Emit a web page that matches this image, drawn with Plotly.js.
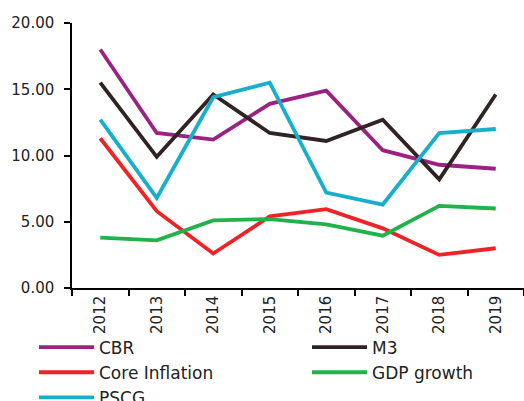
<!DOCTYPE html>
<html><head><meta charset="utf-8">
<script src="https://cdn.plot.ly/plotly-3.0.1.min.js"></script>
<style>body{margin:0;background:#fff}#c{width:524px;height:401px}</style>
</head><body><div id="c"></div>
<script>
const years = ['2012','2013','2014','2015','2016','2017','2018','2019'];
const cbr = [18.0, 11.7, 11.2, 13.9, 14.9, 10.4, 9.3, 9.0];
const m3 = [15.5, 9.9, 14.6, 11.7, 11.1, 12.7, 8.2, 14.6];
const coreInflation = [11.3, 5.8, 2.6, 5.4, 5.95, 4.5, 2.5, 3.0];
const gdpGrowth = [3.8, 3.6, 5.1, 5.2, 4.8, 3.95, 6.2, 6.0];
const pscg = [12.7, 6.8, 14.4, 15.5, 7.2, 6.3, 11.7, 12.0];
const yTicks = [0, 5, 10, 15, 20];

const mk = (name, y, color, lg) => ({x: years, y: y, name: name, type: 'scatter', mode: 'lines',
  line: {color: color, width: 3.8}, legend: lg});
const data = [
  mk('CBR', cbr, '#9B2283', 'legend'),
  mk('M3', m3, '#2F2423', 'legend2'),
  mk('Core Inflation', coreInflation, '#EE2326', 'legend'),
  mk('GDP growth', gdpGrowth, '#22B24C', 'legend2'),
  mk('PSCG', pscg, '#17AFCB', 'legend')
];
const font = 'DejaVu Sans, sans-serif';
const legendBase = {orientation: 'v', xref: 'container', yref: 'container', y: 0.178,
  xanchor: 'left', yanchor: 'top', font: {family: font, size: 17, color: '#222'},
  tracegroupgap: 0, itemwidth: 55, bgcolor: 'rgba(0,0,0,0)'};
const layout = {
  width: 524, height: 401,
  margin: {l: 72, r: 0, t: 23, b: 113, autoexpand: false},
  paper_bgcolor: '#fff', plot_bgcolor: '#fff',
  font: {family: font, size: 15, color: '#222'},
  showlegend: true,
  legend: Object.assign({}, legendBase, {x: 34/524}),
  legend2: Object.assign({}, legendBase, {x: 307/524}),
  xaxis: {type: 'category', showline: true, linecolor: '#000', linewidth: 1.5,
    ticks: 'outside', ticklen: 6, tickwidth: 1.5, tickcolor: '#000', tickson: 'boundaries',
    tickangle: -90, showgrid: false, zeroline: false, range: [-0.5, 7.5], automargin: false,
    tickfont: {family: font, size: 15, color: '#222'}},
  yaxis: {range: [0, 20], tickvals: yTicks, ticktext: yTicks.map(v => v.toFixed(2)),
    showline: true, linecolor: '#000', linewidth: 1.5, ticks: 'outside', ticklen: 6,
    tickwidth: 1.5, tickcolor: '#000', showgrid: false, zeroline: false, ticklabelstandoff: 7,
    automargin: false, tickfont: {family: font, size: 15, color: '#222'}}
};
Plotly.newPlot('c', data, layout, {displayModeBar: false});
</script></body></html>
